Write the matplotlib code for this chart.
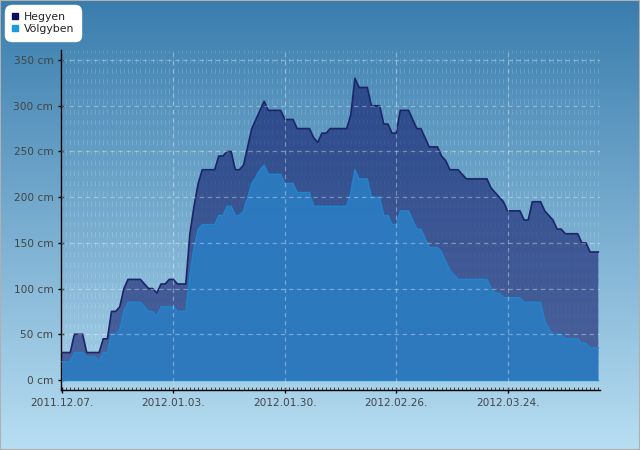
import numpy as np
import pandas as pd
import matplotlib
matplotlib.use("Agg")
import matplotlib.pyplot as plt
import matplotlib.dates as mdates
from matplotlib.lines import Line2D
from matplotlib.patches import Rectangle

# ── data (daily snow depth, cm) ───────────────────────────────────────────────
START = "2011-12-07"
hegyen = [30, 30, 30, 50, 50, 50, 30, 30, 30, 30, 45, 45, 75, 75, 80, 100, 110, 110, 110, 110,
          105, 100, 100, 95, 105, 105, 110, 110, 105, 105, 105, 160, 190, 215, 230, 230, 230, 230, 245, 245,
          250, 250, 230, 230, 235, 255, 275, 285, 295, 305, 295, 295, 295, 295, 285, 285, 285, 275, 275, 275,
          275, 265, 260, 270, 270, 275, 275, 275, 275, 275, 290, 330, 320, 320, 320, 300, 300, 300, 280, 280,
          270, 270, 295, 295, 295, 285, 275, 275, 265, 255, 255, 255, 245, 240, 230, 230, 230, 225, 220, 220,
          220, 220, 220, 220, 210, 205, 200, 195, 185, 185, 185, 185, 175, 175, 195, 195, 195, 185, 180, 175,
          165, 165, 160, 160, 160, 160, 150, 150, 140, 140, 140]
volgyben = [20, 20, 20, 30, 30, 30, 25, 25, 25, 20, 30, 30, 50, 50, 55, 75, 85, 85, 85, 85,
            80, 75, 75, 70, 80, 80, 80, 80, 75, 75, 75, 115, 145, 165, 170, 170, 170, 170, 180, 180,
            190, 190, 180, 180, 185, 200, 215, 222, 230, 235, 225, 225, 225, 225, 215, 215, 215, 205, 205, 205,
            205, 190, 190, 190, 190, 190, 190, 190, 190, 190, 205, 230, 220, 220, 220, 200, 200, 200, 180, 180,
            170, 170, 185, 185, 185, 175, 165, 165, 155, 145, 145, 145, 140, 130, 120, 115, 110, 110, 110, 110,
            110, 110, 110, 110, 100, 95, 95, 90, 90, 90, 90, 90, 85, 85, 85, 85, 85, 65, 55, 50,
            50, 50, 45, 45, 45, 45, 40, 40, 35, 35, 35]
y_ticks = [0, 50, 100, 150, 200, 250, 300, 350]
x_tick_step = 27  # days between labelled ticks

dates = pd.date_range(START, periods=len(hegyen), freq="D")
x = mdates.date2num(dates)

TEXT = "#444444"
plt.rcParams["font.family"] = ["DejaVu Sans"]

fig = plt.figure(figsize=(6.4, 4.5), dpi=100)

# ── background gradient ───────────────────────────────────────────────────────
bg = fig.add_axes([0, 0, 1, 1], zorder=-10)
top = np.array([0.225, 0.49, 0.68])
bot = np.array([0.72, 0.87, 0.95])
t = np.linspace(0, 1, 256)[:, None]
grad = (top[None, :] * (1 - t) + bot[None, :] * t)[:, None, :]
bg.imshow(grad, aspect="auto", extent=[0, 1, 0, 1])
bg.set_axis_off()
fig.patches.append(Rectangle((0, 0), 1, 1, transform=fig.transFigure,
                             fill=False, edgecolor="#b0b0b0", linewidth=1.5))

# ── main axes ─────────────────────────────────────────────────────────────────
ax = fig.add_axes([61 / 640, 1 - 390 / 450, 539 / 640, 340 / 450])
ax.patch.set_alpha(0)

ax.fill_between(x, 0, hegyen, facecolor="#14206e", alpha=0.62, linewidth=0, zorder=2)
ax.plot(x, hegyen, color="#1b2567", linewidth=1.2, zorder=3)
ax.fill_between(x, 0, volgyben, facecolor="#2c7cc2", alpha=0.92, linewidth=0, zorder=4)
ax.plot(x, volgyben, color="#2185cc", linewidth=1.0, zorder=5)
ax.plot([x[0], x[-1]], [0, 0], color="#2185cc", linewidth=1.0, zorder=5)

ax.set_xlim(x[0] - 0.24, x[0] + 130.4)
ax.set_ylim(-11, 361)

# ticks
ax.set_yticks(y_ticks)
ax.set_yticklabels([f"{v} cm" for v in y_ticks])
major = [x[0] + x_tick_step * k for k in range(5)]
ax.set_xticks(major)
ax.xaxis.set_major_formatter(mdates.DateFormatter("%Y.%m.%d."))
ax.set_xticks(x, minor=True)
ax.tick_params(axis="both", which="major", direction="inout", length=5,
               width=1, colors="black", labelcolor=TEXT, labelsize=7.6, pad=3)
ax.tick_params(axis="x", which="minor", direction="in", length=2.5,
               width=0.6, colors="#2a2a2a")
ax.tick_params(axis="y", which="minor", left=False)

for side in ["top", "right"]:
    ax.spines[side].set_visible(False)
for side in ["left", "bottom"]:
    ax.spines[side].set_color("black")
    ax.spines[side].set_linewidth(1.0)

# grid: minor dotted per day (behind the areas), major dashed on top
for xv in x:
    ax.axvline(xv, color="white", alpha=0.15, linewidth=0.7,
               linestyle=(0, (5.5, 5)), zorder=1)
for xv in major[1:]:
    ax.axvline(xv, color="white", alpha=0.35, linewidth=0.9,
               linestyle=(0, (3.5, 3)), zorder=6)
for yv in y_ticks[1:]:
    ax.axhline(yv, color="white", alpha=0.35, linewidth=0.9,
               linestyle=(0, (3.5, 3)), zorder=6)

# ── legend ────────────────────────────────────────────────────────────────────
handles = [
    Line2D([], [], linestyle="none", marker="s", markersize=4.5,
           markerfacecolor="#0b0f5c", markeredgecolor="#0b0f5c", label="Hegyen"),
    Line2D([], [], linestyle="none", marker="s", markersize=4.5,
           markerfacecolor="#1a9be0", markeredgecolor="#1a9be0", label="Völgyben"),
]
leg = fig.legend(handles=handles, loc="upper left",
                 bbox_to_anchor=(5 / 640, 1 - 5 / 450),
                 frameon=True, fancybox=True, framealpha=1, facecolor="white",
                 edgecolor="white", fontsize=7.8, handlelength=0.6,
                 handletextpad=0.5, borderpad=0.65, labelspacing=0.2,
                 borderaxespad=0)
leg.get_frame().set_boxstyle("round,pad=0,rounding_size=0.6")
for txt in leg.get_texts():
    txt.set_color("#222222")

fig.savefig("out.png", dpi=100)
